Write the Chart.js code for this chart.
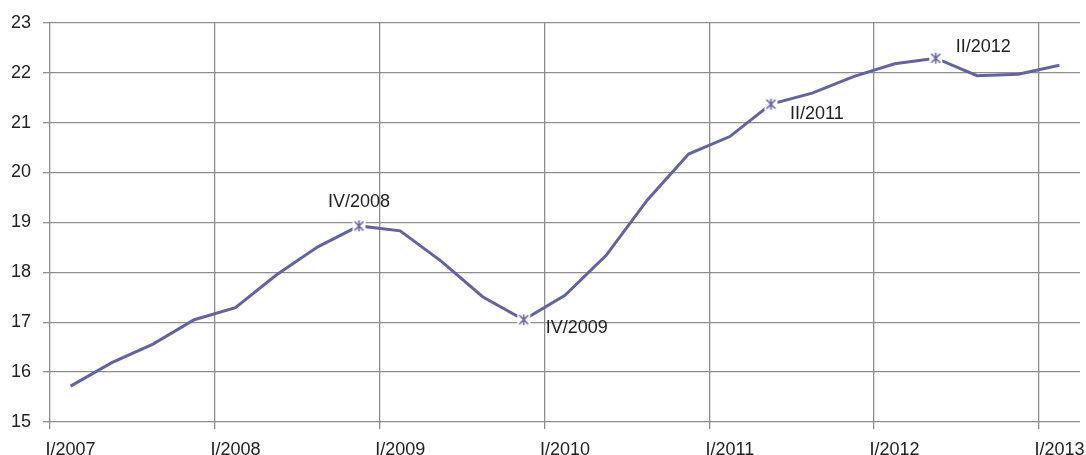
<!DOCTYPE html>
<html>
<head>
<meta charset="utf-8">
<script src="https://cdn.jsdelivr.net/npm/chart.js@4"></script>
<style>
  body { margin: 0; background: #fff; }
  #wrap { width: 1086px; height: 455px; }
</style>
</head>
<body>
<div id="wrap"><canvas id="lineChart"></canvas></div>
<script>
// quarters, I/2007 .. I/2013
const quarters = [
    'I/2007', 'II/2007', 'III/2007', 'IV/2007',
    'I/2008', 'II/2008', 'III/2008', 'IV/2008',
    'I/2009', 'II/2009', 'III/2009', 'IV/2009',
    'I/2010', 'II/2010', 'III/2010', 'IV/2010',
    'I/2011', 'II/2011', 'III/2011', 'IV/2011',
    'I/2012', 'II/2012', 'III/2012', 'IV/2012',
    'I/2013'
];
const values = [
    15.72, 16.19, 16.56, 17.05,
    17.29, 17.95, 18.51, 18.93,
    18.83, 18.22, 17.51, 17.05,
    17.54, 18.34, 19.45, 20.37,
    20.72, 21.37, 21.59, 21.92,
    22.18, 22.29, 21.94, 21.97,
    22.15
];
const markedPoints = [7, 11, 17, 21];
const yTicks = [15, 16, 17, 18, 19, 20, 21, 22, 23];

const lineColor = '#65639e';
const gridColor = '#8e8e8e';
const font = "'Liberation Sans', Arial, sans-serif";

// star-like marker (x with vertical bar) on a white patch
function makeMarker() {
    const c = document.createElement('canvas');
    c.width = 15; c.height = 15;
    const g = c.getContext('2d');
    g.fillStyle = '#fff';
    g.fillRect(1, 1, 13, 13);
    g.strokeStyle = lineColor;
    g.lineWidth = 1.6;
    g.beginPath();
    g.moveTo(3, 3); g.lineTo(12, 12);
    g.moveTo(12, 3); g.lineTo(3, 12);
    g.moveTo(7.5, 2); g.lineTo(7.5, 13);
    g.stroke();
    return c;
}
const marker = makeMarker();

// text next to the marked points
const pointLabels = {
    id: 'pointLabels',
    afterDatasetsDraw(chart) {
        const meta = chart.getDatasetMeta(0);
        const ctx = chart.ctx;
        const place = {
            7: { dx: 0, dy: -24, align: 'center' },
            11: { dx: 22, dy: 8, align: 'left' },
            17: { dx: 19, dy: 10, align: 'left' },
            21: { dx: 20, dy: -11, align: 'left' }
        };
        ctx.save();
        ctx.font = '18px ' + font;
        ctx.fillStyle = '#222';
        ctx.textBaseline = 'middle';
        markedPoints.forEach(function (i) {
            const p = meta.data[i];
            const o = place[i];
            ctx.textAlign = o.align;
            ctx.fillText(quarters[i], p.x + o.dx, p.y + o.dy);
        });
        ctx.restore();
    }
};

const ctx = document.getElementById('lineChart').getContext('2d');
const lineChart = new Chart(ctx, {
    type: 'line',
    data: {
        labels: quarters,
        datasets: [{
            data: values,
            borderColor: lineColor,
            borderWidth: 3,
            tension: 0,
            pointStyle: marker,
            pointRadius: function (c) { return markedPoints.includes(c.dataIndex) ? 7 : 0; },
            pointHoverRadius: 0
        }]
    },
    options: {
        responsive: true,
        maintainAspectRatio: false,
        animation: false,
        layout: { padding: { top: 22, right: 6, left: 0, bottom: 0 } },
        plugins: {
            legend: { display: false },
            tooltip: { enabled: false }
        },
        scales: {
            x: {
                offset: true,
                grid: {
                    offset: true,
                    color: function (c) { return c.index % 4 === 0 ? gridColor : 'rgba(0,0,0,0)'; },
                    lineWidth: 1.3,
                    tickLength: 7
                },
                border: { display: false },
                ticks: {
                    autoSkip: false,
                    maxRotation: 0,
                    padding: 10,
                    color: '#222',
                    font: { family: font, size: 18 },
                    callback: function (v, i) { return i % 4 === 0 ? quarters[i] : ''; }
                },
                afterFit: function (s) {
                    s.height = 33;
                    s.paddingLeft = 0;
                    s.paddingRight = 0;
                }
            },
            y: {
                min: 15,
                max: 23,
                afterBuildTicks: function (s) { s.ticks = yTicks.map(function (v) { return { value: v }; }); },
                grid: { color: gridColor, lineWidth: 1.3, tickLength: 7 },
                border: { display: false },
                ticks: {
                    padding: 12,
                    color: '#222',
                    font: { family: font, size: 18 }
                },
                afterFit: function (s) { s.width = 50; }
            }
        }
    },
    plugins: [pointLabels]
});
</script>
</body>
</html>
